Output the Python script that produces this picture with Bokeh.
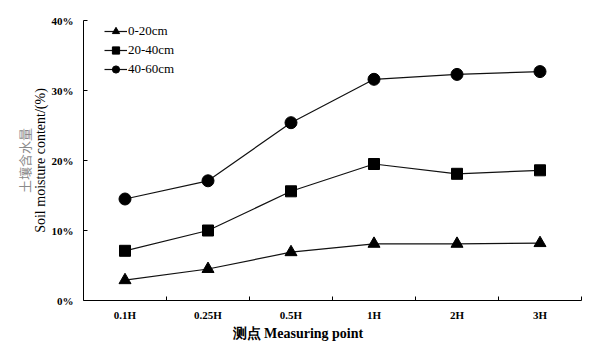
from bokeh.plotting import figure
from bokeh.models import (Range1d, FixedTicker, PrintfTickFormatter, Legend,
                          LegendItem, Title, ColumnDataSource, LinearAxis)
from bokeh.embed import file_html
from bokeh.resources import INLINE

categories = ["0.1H", "0.25H", "0.5H", "1H", "2H", "3H"]
depth_0_20 = [2.9, 4.5, 6.9, 8.1, 8.1, 8.2]
depth_20_40 = [7.1, 10.0, 15.6, 19.5, 18.1, 18.6]
depth_40_60 = [14.5, 17.1, 25.4, 31.6, 32.3, 32.7]
series_names = ["0-20cm", "20-40cm", "40-60cm"]
y_ticks = [0, 10, 20, 30, 40]

xpos = [i + 0.5 for i in range(len(categories))]

p = figure(width=599, height=352, output_backend="svg", toolbar_location=None,
           x_range=Range1d(0, len(categories)), y_range=Range1d(0, 40),
           min_border_left=83, min_border_right=18, min_border_top=20,
           min_border_bottom=52)
p.outline_line_color = None
p.xgrid.visible = False
p.ygrid.visible = False
p.background_fill_color = "white"

serif = "Liberation Serif"
col = "#111111"

# x axis
xa = p.xaxis[0]
xa.ticker = FixedTicker(ticks=xpos, minor_ticks=list(range(1, len(categories) + 1)))
xa.major_label_overrides = {x: c for x, c in zip(xpos, categories)}
xa.major_tick_line_color = None
xa.minor_tick_in = 4
xa.minor_tick_out = 0
xa.minor_tick_line_color = "black"
xa.axis_line_color = "black"
xa.major_label_text_font = serif
xa.major_label_text_font_style = "bold"
xa.major_label_text_font_size = "11px"
xa.major_label_text_color = "black"
xa.major_label_standoff = 2

# y axis
ya = p.yaxis[0]
ya.ticker = FixedTicker(ticks=y_ticks)
ya.formatter = PrintfTickFormatter(format="%d%%")
ya.minor_tick_line_color = None
ya.major_tick_in = 4
ya.major_tick_out = 0
ya.axis_line_color = "black"
ya.major_label_text_font = serif
ya.major_label_text_font_style = "bold"
ya.major_label_text_font_size = "11px"
ya.major_label_text_color = "black"
ya.major_label_standoff = 10
ya.axis_label = "Soil moisture content/(%)"
ya.axis_label_text_font = serif
ya.axis_label_text_font_style = "normal"
ya.axis_label_text_font_size = "14px"
ya.axis_label_text_color = "black"
ya.axis_label_standoff = 1

# outer label-only axis for the Chinese title
ya2 = LinearAxis(ticker=FixedTicker(ticks=[]), axis_line_color=None,
                 major_tick_line_color=None, minor_tick_line_color=None,
                 major_label_standoff=0, axis_label="土壤含水量",
                 axis_label_standoff=-4, axis_label_text_font="Noto Sans CJK SC",
                 axis_label_text_font_size="13px", axis_label_text_font_style="normal",
                 axis_label_text_color="#8a8a8a")
p.add_layout(ya2, "left")

p.add_layout(Title(text="测点  Measuring point", text_font=serif,
                   text_font_size="14px", text_font_style="bold",
                   text_color="black", align="left", offset=149, standoff=1), "below")

lines = []
markers = ["triangle", "square", "circle"]
sizes = [12, 11, 12]
for vals, mk, sz in zip([depth_0_20, depth_20_40, depth_40_60], markers, sizes):
    src = ColumnDataSource(dict(x=xpos, y=vals))
    l = p.line("x", "y", source=src, line_color=col, line_width=1.2)
    m = p.scatter("x", "y", source=src, marker=mk, size=sz,
                  fill_color="black", line_color="black")
    lines.append([l, m])

legend = Legend(items=[LegendItem(label=n, renderers=r) for n, r in zip(series_names, lines)],
                location=(21, 222), padding=0, margin=0, spacing=1,
                label_height=18, glyph_height=18, glyph_width=23,
                label_standoff=1, label_text_font=serif, label_text_font_size="13px",
                label_text_color="black", background_fill_alpha=0,
                border_line_color=None)
p.add_layout(legend, "center")

open("out.html", "w").write(file_html(p, INLINE))
